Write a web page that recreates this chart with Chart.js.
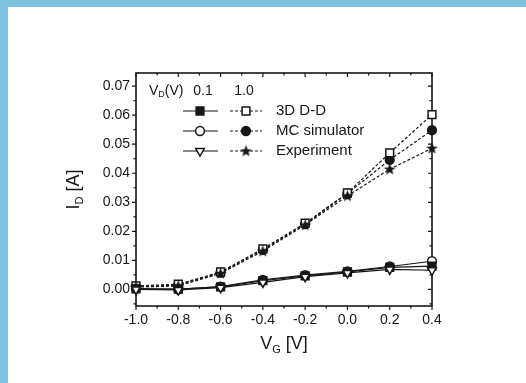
<!DOCTYPE html>
<html>
<head>
<meta charset="utf-8">
<script src="https://cdn.jsdelivr.net/npm/chart.js@4"></script>
<style>
  html, body { margin: 0; padding: 0; background: #fff; }
  #wrap { position: relative; width: 526px; height: 383px; overflow: hidden; }
  .band { position: absolute; background: #7dc3e0; }
  #chart { position: absolute; left: 0; top: 0; }
</style>
</head>
<body>
<div id="wrap">
  <div class="band" style="left:0;top:0;width:526px;height:7px"></div>
  <div class="band" style="left:0;top:0;width:8px;height:383px"></div>
  <canvas id="chart" width="526" height="383"></canvas>
</div>
<script>
// gate voltage V_G [V]
const vg = [-1.0, -0.8, -0.6, -0.4, -0.2, 0.0, 0.2, 0.4];

// V_D = 0.1 V (solid lines)
const dd01  = [0.0002, 0.0001, 0.0009, 0.0030, 0.0047, 0.0060, 0.0076, 0.0080];
const mc01  = [0.0003, 0.0000, 0.0010, 0.0033, 0.0049, 0.0062, 0.0079, 0.0097];
const exp01 = [0.0000, -0.0002, 0.0006, 0.0024, 0.0044, 0.0057, 0.0069, 0.0066];

// V_D = 1.0 V (dashed lines)
const dd10  = [0.0012, 0.0018, 0.0060, 0.0140, 0.0228, 0.0332, 0.0470, 0.0602];
const mc10  = [0.0010, 0.0015, 0.0058, 0.0136, 0.0225, 0.0330, 0.0446, 0.0548];
const exp10 = [0.0008, 0.0012, 0.0055, 0.0132, 0.0222, 0.0322, 0.0414, 0.0486];

const legendNames = ['3D D-D', 'MC simulator', 'Experiment'];

const ink = '#161616';
const FONT = '"Liberation Sans", Arial, sans-serif';

// filled star marker
const star = document.createElement('canvas');
star.width = 13; star.height = 13;
(function () {
  const c = star.getContext('2d');
  c.fillStyle = ink;
  c.beginPath();
  for (let i = 0; i < 10; i++) {
    const r = i % 2 ? 2.6 : 6.2;
    const a = -Math.PI / 2 + i * Math.PI / 5;
    c.lineTo(6.5 + r * Math.cos(a), 6.8 + r * Math.sin(a));
  }
  c.closePath();
  c.fill();
})();

function pts(ys) { return vg.map((x, i) => ({ x: x, y: ys[i] })); }

function series(ys, style, filled, dashed, radius, rot) {
  return {
    data: pts(ys),
    borderColor: ink,
    borderWidth: 1.2,
    borderDash: dashed ? [3, 2] : [],
    pointStyle: style,
    pointRadius: radius,
    pointRotation: rot || 0,
    pointBackgroundColor: filled ? ink : '#fff',
    pointBorderColor: ink,
    pointBorderWidth: 1.5,
    showLine: true,
    fill: false,
    clip: false
  };
}

const datasets = [
  series(exp01, 'triangle', false, false, 5, 180),
  series(dd01, 'rect', true, false, 5.5),
  series(mc01, 'circle', false, false, 4.4),
  series(exp10, star, true, true, 6),
  series(dd10, 'rect', false, true, 5.5),
  series(mc10, 'circle', true, true, 4.4)
];

function marker(ctx, kind, filled, x, y) {
  ctx.save();
  ctx.setLineDash([]);
  ctx.lineWidth = 1.5;
  ctx.strokeStyle = ink;
  ctx.fillStyle = filled ? ink : '#fff';
  ctx.beginPath();
  if (kind === 'rect') {
    ctx.rect(x - 3.9, y - 3.9, 7.8, 7.8);
  } else if (kind === 'circle') {
    ctx.arc(x, y, 4.4, 0, Math.PI * 2);
  } else if (kind === 'tri') {
    ctx.moveTo(x - 4.3, y - 2.5);
    ctx.lineTo(x + 4.3, y - 2.5);
    ctx.lineTo(x, y + 5);
    ctx.closePath();
  }
  if (kind === 'star') {
    ctx.drawImage(star, x - 6.5, y - 6.5);
  } else {
    ctx.fill();
    ctx.stroke();
  }
  ctx.restore();
}

function subText(ctx, parts, x, y, align) {
  // parts: [text, size, dy]
  let w = 0;
  parts.forEach(p => { ctx.font = p[1] + 'px ' + FONT; w += ctx.measureText(p[0]).width; });
  let cx = align === 'center' ? x - w / 2 : x;
  parts.forEach(p => {
    ctx.font = p[1] + 'px ' + FONT;
    ctx.fillText(p[0], cx, y + p[2]);
    cx += ctx.measureText(p[0]).width;
  });
}

const decor = {
  id: 'decor',
  beforeDatasetsDraw(chart) {
    const { ctx, chartArea: a, scales } = chart;
    const sx = scales.x, sy = scales.y;
    ctx.save();
    ctx.strokeStyle = ink;
    ctx.lineWidth = 1.6;
    ctx.strokeRect(a.left, a.top, a.right - a.left, a.bottom - a.top);
    ctx.lineWidth = 1.2;
    ctx.beginPath();
    for (let i = 0; i <= 14; i++) {
      const v = -1.0 + i * 0.1;
      const px = sx.getPixelForValue(v);
      const len = i % 2 === 0 ? 4 : 2.5;
      ctx.moveTo(px, a.bottom); ctx.lineTo(px, a.bottom + len);
      ctx.moveTo(px, a.top); ctx.lineTo(px, a.top + len);
    }
    for (let i = -1; i <= 14; i++) {
      const v = i * 0.005;
      if (v < sy.min || v > sy.max) continue;
      const py = sy.getPixelForValue(v);
      const len = i % 2 === 0 ? 4 : 2.5;
      ctx.moveTo(a.left, py); ctx.lineTo(a.left - len, py);
      ctx.moveTo(a.right, py); ctx.lineTo(a.right - len, py);
    }
    ctx.stroke();
    ctx.restore();
  },
  afterDraw(chart) {
    const { ctx, chartArea: a } = chart;
    ctx.save();
    ctx.fillStyle = ink;
    ctx.textBaseline = 'alphabetic';

    // axis titles
    subText(ctx, [['V', 18, 0], ['G', 11, 4], [' [V]', 18, 0]], (a.left + a.right) / 2, 349, 'center');
    ctx.save();
    ctx.translate(79, (a.top + a.bottom) / 2);
    ctx.rotate(-Math.PI / 2);
    subText(ctx, [['I', 18, 0], ['D', 11, 4], [' [A]', 18, 0]], 0, 0, 'center');
    ctx.restore();

    // legend
    ctx.textBaseline = 'middle';
    subText(ctx, [['V', 14, 0], ['D', 9, 4], ['(V)', 14, 0]], 149, 91, 'left');
    ctx.font = '14px ' + FONT;
    ctx.textAlign = 'center';
    ctx.fillText('0.1', 203, 91);
    ctx.fillText('1.0', 244, 91);
    ctx.textAlign = 'left';

    const rows = [111, 131, 151];
    const solid = [['rect', true], ['circle', false], ['tri', false]];
    const dashed = [['rect', false], ['circle', true], ['star', true]];
    rows.forEach((y, i) => {
      ctx.strokeStyle = ink;
      ctx.lineWidth = 1.2;
      ctx.setLineDash([]);
      ctx.beginPath(); ctx.moveTo(183, y); ctx.lineTo(218, y); ctx.stroke();
      ctx.setLineDash([3, 2]);
      ctx.beginPath(); ctx.moveTo(230, y); ctx.lineTo(262, y); ctx.stroke();
      ctx.setLineDash([]);
      marker(ctx, solid[i][0], solid[i][1], 200, y);
      marker(ctx, dashed[i][0], dashed[i][1], 246, y);
      ctx.font = '15px ' + FONT;
      ctx.fillStyle = ink;
      ctx.fillText(legendNames[i], 276, y);
    });
    ctx.restore();
  }
};

new Chart(document.getElementById('chart'), {
  type: 'scatter',
  data: { datasets: datasets },
  options: {
    responsive: false,
    animation: false,
    devicePixelRatio: 1,
    layout: { padding: { left: 0, top: 73, right: 94, bottom: 0 } },
    plugins: { legend: { display: false }, tooltip: { enabled: false } },
    scales: {
      x: {
        type: 'linear',
        min: -1.0,
        max: 0.4,
        grid: { display: false, drawTicks: false },
        border: { display: false },
        ticks: {
          stepSize: 0.2,
          padding: 6,
          color: ink,
          font: { family: FONT, size: 14 },
          maxRotation: 0,
          callback: v => (Math.abs(v) < 1e-9 ? 0 : v).toFixed(1)
        },
        afterFit: s => { s.height = 77; }
      },
      y: {
        min: -0.0057,
        max: 0.0745,
        grid: { display: false, drawTicks: false },
        border: { display: false },
        ticks: {
          stepSize: 0.01,
          includeBounds: false,
          padding: 6,
          color: ink,
          font: { family: FONT, size: 14 },
          callback: v => (Math.abs(v) < 1e-9 ? 0 : v).toFixed(2)
        },
        afterFit: s => { s.width = 136; }
      }
    }
  },
  plugins: [decor]
});
</script>
</body>
</html>
